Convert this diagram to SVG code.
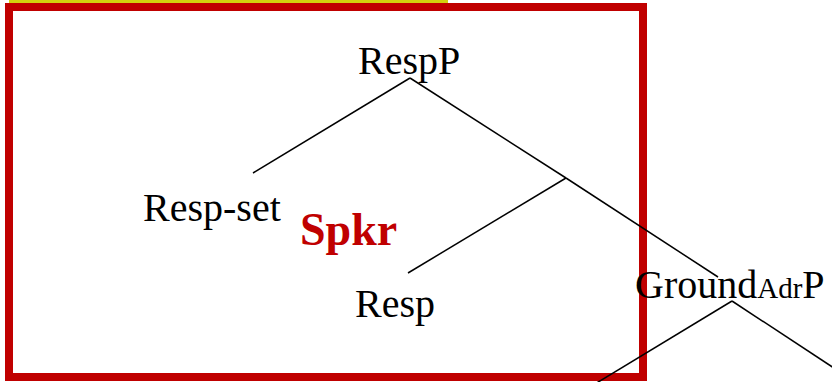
<svg xmlns="http://www.w3.org/2000/svg" width="832" height="382" viewBox="0 0 832 382">
<style>
.t{font-family:"Liberation Serif","Times New Roman",serif;font-size:40px;fill:#000}
.sp{font-family:"Liberation Serif","Times New Roman",serif;font-size:46px;font-weight:bold;fill:#c00000}
.e{stroke:#000;stroke-width:1.5;fill:none}
</style>
<rect x="9" y="0" width="439" height="3.5" fill="#d2d20e"/>
<rect x="9" y="7" width="634" height="370" fill="none" stroke="#c00000" stroke-width="8"/>
<g id="connectors">
<line class="e" x1="410" y1="78" x2="253" y2="173"/>
<line class="e" x1="410" y1="78" x2="566" y2="178"/>
<line class="e" x1="566" y1="178" x2="408" y2="273"/>
<line class="e" x1="566" y1="178" x2="718" y2="277"/>
<line class="e" x1="732" y1="301" x2="590" y2="387"/>
<line class="e" x1="732" y1="301" x2="840" y2="372"/>
</g>
<g id="respP"><text class="t" x="358" y="74">RespP</text></g>
<g id="respset"><text class="t" x="143" y="221">Resp-set</text></g>
<g id="spkr"><text class="sp" x="300" y="245">Spkr</text></g>
<g id="resp"><text class="t" x="355" y="317">Resp</text></g>
<g id="groundAdrP"><text class="t" x="635" y="298">Ground<tspan font-size="29">Adr</tspan>P</text></g>
</svg>
